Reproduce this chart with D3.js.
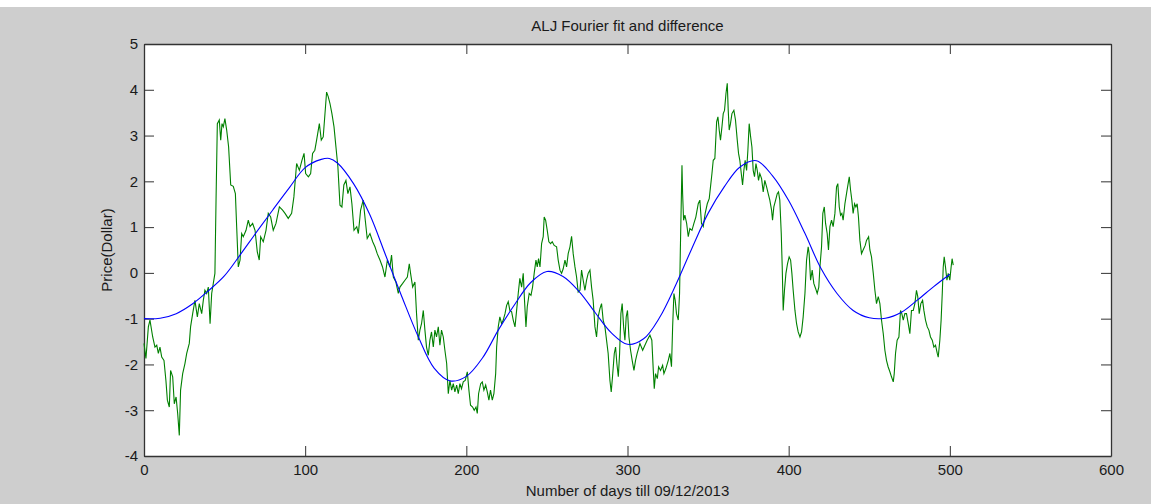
<!DOCTYPE html>
<html>
<head>
<meta charset="utf-8">
<script src="https://cdn.jsdelivr.net/npm/d3@7"></script>
<style>
  html, body { margin: 0; padding: 0; background: #ffffff; }
  svg { display: block; }
  text { font-family: Arial, "Liberation Sans", Helvetica, sans-serif; fill: #1a1a1a; }
</style>
</head>
<body>
<svg id="chart" width="1151" height="504"></svg>
<script>
// ---------- DATA ----------
const chartTitle = "ALJ Fourier fit and difference";
const xLabel = "Number of days till 09/12/2013";
const yLabel = "Price(Dollar)";
const xTicks = [0, 100, 200, 300, 400, 500, 600];
const yTicks = [-4, -3, -2, -1, 0, 1, 2, 3, 4, 5];

// Fourier fit (blue)
const fitDays = [0, 10, 20, 30, 40, 50, 60, 70, 80, 90, 100, 110, 115, 120, 130, 140, 150, 160, 170, 180, 190, 200,
  210, 220, 230, 240, 250, 260, 270, 280, 290, 300, 310, 320, 330, 340, 350, 360, 370, 380, 390, 400,
  410, 420, 430, 440, 450, 460, 470, 480, 490, 500];
const fitValues = [-1.0, -0.99, -0.89, -0.68, -0.39, -0.06, 0.41, 0.90, 1.38, 1.85, 2.30, 2.48, 2.50, 2.40, 1.95, 1.28, 0.38, -0.52, -1.38, -2.08, -2.36, -2.26,
  -1.86, -1.24, -0.69, -0.21, 0.03, -0.08, -0.41, -0.87, -1.31, -1.56, -1.44, -0.97, -0.26, 0.54, 1.30, 1.88, 2.32, 2.45, 2.12, 1.58,
  0.87, 0.10, -0.45, -0.82, -0.98, -0.99, -0.86, -0.59, -0.30, -0.03];

// Difference / price series (green)
const priceDays = [0, 1.2, 2.7, 3.7, 5.4, 6.8, 7.9, 8.9, 9.9, 11.0, 12.4, 13.6, 14.5, 15.7, 16.5, 17.8, 18.8, 19.9, 20.9, 21.9,
  22.7, 24.0, 25.4, 26.5, 28.1, 28.9, 30.2, 31.6, 33.1, 34.3, 35.8, 36.8, 37.8, 38.9, 39.9, 41.0, 42.0, 43.0, 44.0, 44.7,
  45.5, 46.7, 47.6, 48.4, 49.2, 50.2, 51.3, 52.5, 53.8, 55.4, 56.7, 57.5, 58.5, 59.6, 60.6, 61.6, 63.3, 64.7, 65.8, 67.4,
  68.9, 70.3, 71.5, 72.4, 74.0, 75.7, 77.1, 78.6, 80.2, 81.9, 84.0, 86.0, 87.5, 89.5, 91.6, 93.0, 94.7, 96.4, 98.0, 99.3,
  100.3, 102.0, 103.4, 104.6, 106.0, 107.1, 108.8, 110.0, 111.2, 112.3, 113.3, 114.3, 115.4, 116.6, 117.9, 119.1, 120.3, 121.6, 122.8, 124.0,
  125.3, 126.5, 127.8, 129.0, 130.3, 132.0, 133.0, 134.4, 136.0, 137.3, 138.5, 140.2, 141.9, 143.3, 144.7, 146.4, 148.0, 149.5, 151.0,
  152.6, 153.6, 154.7, 156.3, 157.8, 158.8, 160.5, 161.9, 163.4, 164.6, 165.4, 166.7, 168.1, 169.1, 170.2, 171.2, 172.2, 173.3, 174.3,
  175.3, 176.4, 177.4, 178.4, 179.5, 180.5, 181.5, 182.6, 183.6, 184.6, 185.7, 186.7, 187.8, 188.8, 189.8, 190.9, 191.9, 192.9, 194.0,
  195.0, 196.0, 197.0, 198.1, 199.3, 200.6, 201.6, 202.6, 203.9, 204.9, 206.0, 206.8, 207.6, 208.9, 209.9, 210.9, 212.0, 213.0, 214.0,
  215.0, 216.1, 217.1, 218.2, 218.8, 219.8, 220.8, 221.9, 222.9, 224.0, 225.0, 226.0, 227.0, 228.1, 229.1, 230.2, 231.2, 232.2, 233.2,
  234.3, 235.3, 236.1, 237.0, 237.8, 239.0, 240.1, 241.1, 242.1, 243.2, 244.0, 244.8, 245.7, 246.7, 247.7, 248.3, 249.2, 250.2, 251.2,
  252.3, 253.3, 254.5, 256.0, 257.0, 258.1, 259.1, 260.1, 261.2, 262.2, 263.2, 264.3, 265.3, 266.3, 267.4, 268.4, 269.4, 270.5, 271.5,
  272.5, 273.6, 274.6, 275.6, 276.7, 277.7, 278.7, 279.8, 280.8, 281.8, 282.9, 283.9, 284.9, 286.0, 287.0, 288.0, 289.1, 289.9, 290.7,
  291.8, 292.6, 293.4, 294.3, 295.1, 295.9, 296.7, 297.6, 298.4, 299.2, 300.0, 300.9, 301.9, 302.9, 304.0, 305.0, 306.0, 307.1,
  307.7, 309.4, 310.8, 312.2, 313.9, 315.1, 316.0, 316.6, 317.4, 318.5, 319.3, 320.5, 321.8, 322.6, 323.8, 325.3, 326.3, 327.3, 328.0,
  328.8, 329.6, 330.4, 331.5, 332.3, 332.9, 333.8, 334.2, 334.8, 335.6, 336.7, 337.7, 338.7, 340.0, 341.2, 342.4, 343.9, 344.9, 345.9,
  347.0, 348.2, 349.5, 350.7, 351.5, 352.4, 353.2, 354.2, 355.3, 356.1, 356.9, 357.7, 358.6, 359.4, 360.2, 361.1, 361.9, 362.5, 363.1,
  363.9, 364.8, 366.0, 367.0, 368.1, 368.9, 369.7, 370.6, 371.4, 372.2, 373.0, 373.9, 374.7, 375.5, 376.4, 377.2, 378.0, 378.8, 379.7,
  380.5, 381.3, 382.1, 383.2, 384.2, 385.2, 386.3, 387.3, 388.3, 389.4, 390.0, 390.8, 391.9, 392.9, 393.7, 394.5, 395.4, 396.0, 396.6,
  397.4, 398.3, 399.3, 400.3, 401.2, 402.0, 402.8, 403.9, 404.9, 405.9, 407.0, 408.0, 409.0, 410.1, 411.1, 412.1, 412.7, 413.6, 414.6,
  415.6, 416.7, 417.7, 418.7, 419.4, 420.4, 421.2, 422.1, 422.9, 423.9, 424.7, 425.6, 426.6, 427.6, 428.7, 429.7, 430.5, 431.4, 432.2,
  433.0, 433.8, 434.9, 435.9, 436.9, 437.6, 438.4, 439.2, 440.0, 440.9, 441.7, 442.5, 443.3, 444.2, 445.2, 446.2, 447.5, 448.3, 449.6,
  450.4, 451.4, 452.5, 453.5, 454.5, 455.6, 456.6, 457.6, 458.7, 459.7, 460.7, 461.7, 462.8, 463.8, 464.9, 465.5, 466.3, 467.3, 468.4,
  469.4, 470.2, 471.1, 472.1, 473.1, 474.2, 475.2, 476.2, 477.3, 478.3, 479.3, 480.1, 481.0, 482.0, 483.1, 483.9, 484.9, 486.0, 487.0,
  488.0, 489.1, 490.1, 491.1, 492.2, 492.8, 493.8, 494.6, 495.3, 495.9, 496.5, 497.3, 498.2, 499.0, 500.0, 500.8, 501.4, 502.1];
const priceValues = [-1.54, -1.87, -1.18, -1.03, -1.40, -1.62, -1.58, -1.76, -1.62, -1.84, -1.91, -2.35, -2.78, -2.93, -2.13, -2.27, -2.86, -2.71, -3.07, -3.55,
  -2.56, -2.20, -1.98, -1.76, -1.54, -1.18, -0.89, -0.60, -0.96, -0.67, -0.89, -0.60, -0.38, -0.45, -0.31, -1.11, -0.45, -0.23, -0.01, 1.59,
  3.26, 3.34, 2.90, 3.26, 3.19, 3.37, 3.12, 2.75, 1.92, 1.89, 1.73, 1.01, 0.13, 0.28, 0.86, 0.79, 0.93, 1.15, 1.01, 1.08,
  0.93, 0.46, 0.28, 0.79, 0.68, 0.93, 1.30, 1.22, 0.93, 1.08, 1.44, 1.37, 1.30, 1.19, 1.30, 1.66, 2.39, 2.24, 2.46, 2.61,
  2.17, 2.10, 2.17, 2.61, 2.68, 2.90, 3.26, 2.90, 2.97, 3.48, 3.95, 3.85, 3.70, 3.48, 3.19, 2.75, 2.32, 1.48, 1.44, 1.92,
  2.02, 1.73, 1.88, 1.51, 0.93, 1.01, 0.86, 1.37, 1.59, 1.15, 0.75, 0.86, 0.68, 0.57, 0.42, 0.28, 0.13, -0.09, 0.28,
  0.13, 0.39, -0.09, -0.20, -0.45, -0.31, -0.23, -0.16, -0.09, 0.20, -0.01, -0.31, -0.20, -0.89, -1.47, -1.25, -1.11, -0.82, -1.25,
  -1.62, -1.80, -1.47, -1.29, -1.62, -1.25, -1.40, -1.18, -1.58, -1.25, -1.40, -1.69, -1.98, -2.64, -2.35, -2.56, -2.42, -2.60, -2.45,
  -2.64, -2.42, -2.53, -2.38, -2.35, -2.16, -2.56, -2.89, -2.93, -3.00, -2.93, -3.07, -2.64, -2.42, -2.38, -2.56, -2.45, -2.60, -2.78,
  -2.56, -2.78, -2.64, -2.20, -1.62, -1.18, -0.96, -1.11, -1.03, -0.89, -0.71, -0.63, -0.82, -0.85, -1.03, -1.18, -0.82, -0.45, -0.12,
  -0.31, -0.01, -0.60, -1.18, -0.74, -0.45, -0.49, -0.31, -0.01, 0.28, 0.13, 0.31, 0.13, 0.64, 0.79, 1.22, 1.15, 0.93, 0.68,
  0.64, 0.68, 0.60, 0.57, 0.28, 0.06, -0.01, 0.09, 0.28, 0.13, 0.42, 0.57, 0.80, 0.42, 0.13, -0.09, -0.42, -0.38, 0.06,
  -0.16, -0.38, -0.16, -0.01, 0.06, -0.31, -0.60, -1.18, -1.40, -0.96, -0.78, -0.67, -1.03, -1.18, -1.47, -1.76, -2.35, -2.60, -2.27,
  -1.76, -1.62, -1.98, -2.27, -1.76, -0.89, -0.67, -1.18, -1.47, -0.96, -0.82, -1.40, -1.69, -1.91, -2.13, -1.91, -1.76, -1.62,
  -1.54, -1.69, -1.58, -1.47, -1.36, -1.47, -2.13, -2.53, -2.20, -2.31, -2.05, -2.13, -2.02, -2.20, -2.09, -1.91, -1.76, -2.05, -1.18,
  -0.45, -0.60, -0.89, -1.03, -0.45, 0.71, 2.35, 1.73, 1.15, 1.26, 1.08, 0.79, 0.97, 0.93, 1.08, 1.22, 1.51, 1.59, 1.08,
  1.01, 1.30, 1.51, 1.62, 1.88, 2.17, 2.46, 2.50, 3.30, 3.41, 3.12, 2.90, 3.19, 3.48, 3.55, 3.92, 4.14, 3.55, 3.12,
  3.26, 3.48, 3.55, 3.34, 2.90, 2.61, 2.46, 2.17, 1.92, 2.24, 2.46, 2.24, 2.68, 3.26, 2.97, 2.75, 2.24, 2.10, 2.39,
  2.24, 2.02, 2.17, 2.06, 1.77, 2.02, 1.88, 1.73, 1.59, 1.37, 1.15, 1.44, 1.59, 1.73, 1.77, 1.59, 0.86, 0.13, -0.82,
  -0.38, -0.01, 0.20, 0.35, 0.28, -0.01, -0.38, -0.82, -1.11, -1.29, -1.40, -1.29, -0.96, -0.45, 0.28, 0.57, 0.42, -0.16, 0.06,
  -0.23, -0.34, -0.45, -0.31, 0.13, 0.57, 1.30, 1.44, 1.08, 0.86, 0.50, 1.01, 1.15, 1.01, 1.30, 1.88, 1.95, 1.44, 1.26,
  1.30, 1.15, 1.51, 1.73, 1.95, 2.10, 1.81, 1.59, 1.30, 1.51, 1.44, 1.51, 1.22, 0.71, 0.42, 0.50, 0.60, 0.71, 0.79,
  0.50, 0.35, -0.01, -0.38, -0.67, -0.52, -0.67, -1.03, -1.33, -1.69, -1.91, -2.05, -2.16, -2.27, -2.38, -2.20, -1.76, -1.47, -1.40,
  -0.82, -0.89, -1.03, -0.89, -0.89, -1.11, -1.33, -0.82, -0.82, -0.67, -0.38, -0.52, -0.89, -0.67, -0.60, -0.82, -1.03, -1.18, -1.25,
  -1.40, -1.47, -1.62, -1.58, -1.76, -1.84, -1.47, -1.03, -0.45, 0.13, 0.35, 0.13, -0.16, -0.01, -0.16, 0.13, 0.31, 0.17];

// ---------- DRAW ----------
const W = 1151, H = 504;
const svg = d3.select("#chart");
const plot = { left: 144, right: 1111, top: 44, bottom: 456 };

// figure background
svg.append("rect").attr("x", 0).attr("y", 0).attr("width", W).attr("height", H).attr("fill", "#ffffff");
svg.append("rect").attr("x", 0).attr("y", 7).attr("width", W).attr("height", H - 7).attr("fill", "#cecece");
svg.append("rect").attr("x", plot.left).attr("y", plot.top)
  .attr("width", plot.right - plot.left).attr("height", plot.bottom - plot.top).attr("fill", "#ffffff");

const x = d3.scaleLinear().domain([0, 600]).range([plot.left, plot.right]);
const y = d3.scaleLinear().domain([-4, 5]).range([plot.bottom, plot.top]);

const axisColor = "#333333";
const tickLen = 10;
const plainFmt = d => String(d);

// axes (MATLAB style, ticks inward on all four sides)
const xb = svg.append("g").attr("transform", `translate(0,${plot.bottom})`)
  .call(d3.axisBottom(x).tickValues(xTicks).tickSizeInner(-tickLen).tickSizeOuter(0).tickPadding(8).tickFormat(plainFmt));
const xt = svg.append("g").attr("transform", `translate(0,${plot.top})`)
  .call(d3.axisTop(x).tickValues(xTicks).tickSizeInner(-tickLen).tickSizeOuter(0).tickFormat(""));
const yl = svg.append("g").attr("transform", `translate(${plot.left},0)`)
  .call(d3.axisLeft(y).tickValues(yTicks).tickSizeInner(-tickLen).tickSizeOuter(0).tickPadding(6).tickFormat(plainFmt));
const yr = svg.append("g").attr("transform", `translate(${plot.right},0)`)
  .call(d3.axisRight(y).tickValues(yTicks).tickSizeInner(-tickLen).tickSizeOuter(0).tickFormat(""));

[xb, xt, yl, yr].forEach(g => {
  g.selectAll(".domain").attr("stroke", axisColor).attr("stroke-width", 1.3);
  g.selectAll(".tick line").attr("stroke", axisColor).attr("stroke-width", 1);
  g.selectAll("text").attr("font-size", 15).attr("fill", "#1a1a1a")
    .attr("font-family", "Arial, 'Liberation Sans', sans-serif");
});
xb.selectAll("text").attr("dy", "0.71em");

// data lines
const lineGen = d3.line().x(d => x(d[0])).y(d => y(d[1]));
const fitPts = fitDays.map((d, i) => [d, fitValues[i]]);
const pricePts = priceDays.map((d, i) => [d, priceValues[i]]);

svg.append("path").datum(pricePts)
  .attr("d", lineGen)
  .attr("fill", "none").attr("stroke", "#008000").attr("stroke-width", 1.1);

svg.append("path").datum(fitPts)
  .attr("d", lineGen.curve(d3.curveCatmullRom.alpha(0.5)))
  .attr("fill", "none").attr("stroke", "#0000ff").attr("stroke-width", 1.1);

// titles
svg.append("text").attr("x", (plot.left + plot.right) / 2).attr("y", 31)
  .attr("text-anchor", "middle").attr("font-size", 15).text(chartTitle);
svg.append("text").attr("x", (plot.left + plot.right) / 2).attr("y", 496)
  .attr("text-anchor", "middle").attr("font-size", 15).text(xLabel);
svg.append("text").attr("transform", `translate(112,${(plot.top + plot.bottom) / 2}) rotate(-90)`)
  .attr("text-anchor", "middle").attr("font-size", 15).text(yLabel);
</script>
</body>
</html>
